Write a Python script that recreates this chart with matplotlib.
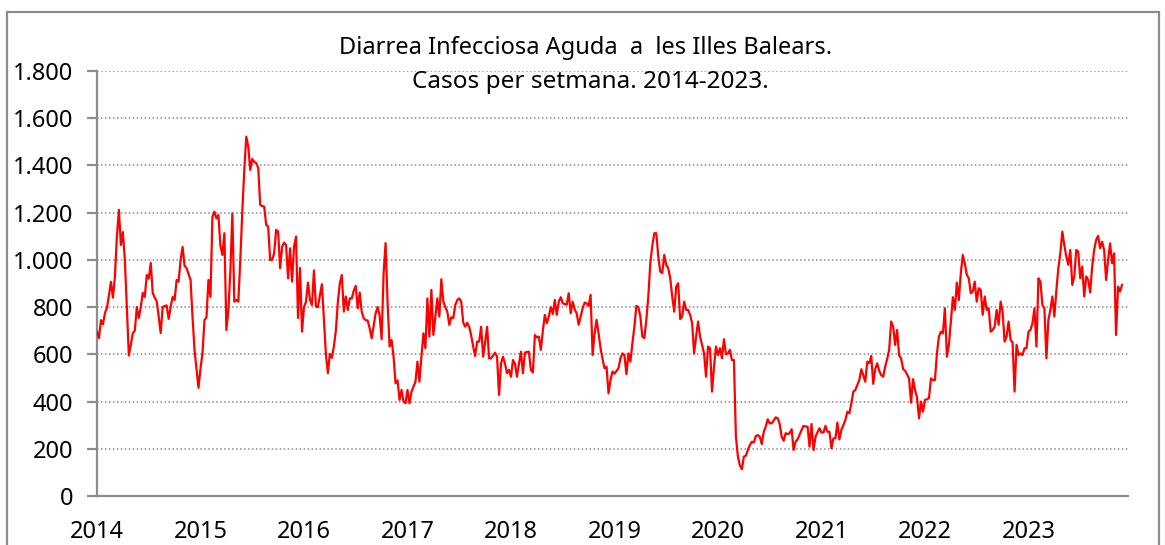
import numpy as np
import matplotlib
matplotlib.use("Agg")
import matplotlib.pyplot as plt
from matplotlib.patches import Rectangle
from matplotlib.ticker import FuncFormatter

plt.rcParams['font.family'] = ['Noto Sans', 'DejaVu Sans']

# weekly cases
cases_2014 = [696, 669, 745, 727, 775, 797, 850, 907, 840, 930, 1100, 1212, 1063, 1118, 1000, 802, 595, 640,
              690, 700, 800, 754, 800, 860, 843, 936, 920, 987, 860, 840, 825, 760, 690, 800, 805, 807, 750,
              800, 843, 830, 915, 908, 1000, 1055, 975, 965, 940, 915, 757, 618, 540, 458]
cases_2015 = [540, 605, 745, 757, 915, 843, 1183, 1204, 1176, 1190, 1060, 1021, 1113, 703, 788, 950, 1197, 823,
              830, 823, 1000, 1204, 1380, 1522, 1480, 1381, 1427, 1415, 1410, 1389, 1233, 1228, 1226, 1148,
              1141, 1000, 1000, 1028, 1127, 1120, 965, 1056, 1073, 1063, 922, 1049, 908, 1056, 1099, 754, 966, 696]
cases_2016 = [800, 823, 904, 830, 809, 955, 802, 800, 850, 897, 750, 600, 520, 602, 585, 633, 700, 820, 900,
              936, 781, 845, 788, 837, 837, 870, 890, 795, 862, 780, 753, 745, 743, 710, 668, 720, 774, 800,
              766, 664, 943, 1071, 816, 633, 661, 590, 477, 490, 407, 449, 400, 393]
cases_2017 = [449, 393, 442, 463, 484, 569, 484, 590, 689, 626, 837, 675, 873, 682, 760, 837, 760, 918, 823,
              800, 781, 725, 757, 753, 809, 830, 837, 823, 734, 717, 734, 717, 680, 633, 593, 654, 654, 717,
              590, 650, 717, 583, 583, 595, 607, 590, 428, 562, 590, 560, 520, 534]
cases_2018 = [505, 576, 560, 505, 560, 611, 520, 607, 610, 611, 534, 523, 682, 672, 675, 619, 700, 767, 732,
              760, 800, 771, 830, 767, 823, 842, 816, 813, 810, 859, 774, 823, 790, 774, 725, 760, 795, 819,
              816, 805, 852, 597, 689, 746, 689, 626, 580, 541, 548, 435, 491, 527]
cases_2019 = [518, 530, 541, 583, 604, 597, 516, 604, 569, 647, 717, 805, 800, 760, 675, 668, 746, 845, 986,
              1060, 1113, 1113, 1014, 950, 944, 1021, 979, 965, 922, 845, 781, 887, 901, 749, 760, 823, 788,
              788, 767, 732, 604, 675, 739, 675, 640, 604, 505, 633, 626, 442, 548, 633]
cases_2020 = [597, 626, 583, 664, 600, 604, 619, 576, 576, 251, 167, 130, 113, 167, 170, 195, 215, 230, 226,
              254, 258, 251, 220, 272, 294, 325, 308, 308, 320, 333, 329, 305, 251, 234, 266, 262, 266, 283,
              195, 230, 240, 260, 280, 297, 294, 294, 209, 305, 195, 251, 270, 287]
cases_2021 = [269, 269, 297, 272, 272, 202, 244, 244, 311, 240, 280, 300, 322, 357, 350, 393, 442, 449, 470,
              491, 537, 512, 484, 569, 562, 593, 475, 538, 562, 530, 512, 505, 548, 580, 619, 739, 718, 640,
              703, 596, 583, 538, 530, 515, 498, 395, 495, 449, 417, 329, 400, 357]
cases_2022 = [407, 410, 414, 498, 491, 491, 604, 675, 696, 689, 795, 590, 640, 738, 842, 788, 904, 830, 943,
              1021, 986, 937, 922, 859, 866, 908, 823, 880, 873, 767, 845, 788, 795, 696, 703, 717, 788, 725,
              823, 781, 654, 675, 739, 661, 650, 442, 640, 597, 604, 597, 626, 626]
cases_2023 = [696, 703, 732, 795, 633, 922, 908, 809, 795, 583, 746, 788, 845, 760, 870, 965, 1028, 1120,
              1063, 1014, 979, 1042, 894, 930, 1042, 1035, 922, 972, 845, 930, 915, 862, 972, 1042, 1085,
              1102, 1049, 1077, 1042, 915, 1000, 1070, 986, 1028, 682, 887, 866, 894]

years = ["2014", "2015", "2016", "2017", "2018", "2019", "2020", "2021", "2022", "2023"]
y_ticks = [0, 200, 400, 600, 800, 1000, 1200, 1400, 1600, 1800]

cases = np.array(cases_2014 + cases_2015 + cases_2016 + cases_2017 + cases_2018 +
                 cases_2019 + cases_2020 + cases_2021 + cases_2022 + cases_2023)
weeks = np.arange(len(cases))

W, H = 1165, 545
fig = plt.figure(figsize=(W / 100, H / 100), dpi=100)
ax = fig.add_axes([97 / W, 1 - 496 / H, (1128 - 97) / W, (496 - 71) / H])

gray = "#8c8c8c"
ax.plot(weeks, cases, color="#ff0000", lw=1.6, zorder=3)

ax.set_xlim(0, 518)
ax.set_ylim(0, 1800)
ax.set_yticks(y_ticks)
ax.yaxis.set_major_formatter(FuncFormatter(lambda v, p: f"{v:,.0f}".replace(",", ".")))
ax.set_xticks([52 * k for k in range(len(years))])
ax.set_xticklabels(years)

ax.grid(axis="y", color="#8a8a8a", linestyle=(0, (1, 1.6)), lw=1.1)
ax.set_axisbelow(True)

for s in ["top", "right"]:
    ax.spines[s].set_visible(False)
for s in ["left", "bottom"]:
    ax.spines[s].set_color(gray)
    ax.spines[s].set_linewidth(1.6)

ax.tick_params(axis="y", length=7.2, width=1.6, color=gray, pad=10, labelsize=17)
ax.tick_params(axis="x", length=0, pad=17, labelsize=17)

fig.text(0.503, 0.912, "Diarrea Infecciosa Aguda  a  les Illes Balears.", ha="center", va="center", fontsize=17)
fig.text(0.507, 0.849, "Casos per setmana. 2014-2023.", ha="center", va="center", fontsize=17.5)

# chart area border
fig.add_artist(Rectangle((6.5 / W, -0.05), (1159 - 6.5) / W, 1.05 - 11.5 / H,
                         transform=fig.transFigure, fill=False, edgecolor=gray, lw=1.6))

fig.savefig("out.png", dpi=100)
